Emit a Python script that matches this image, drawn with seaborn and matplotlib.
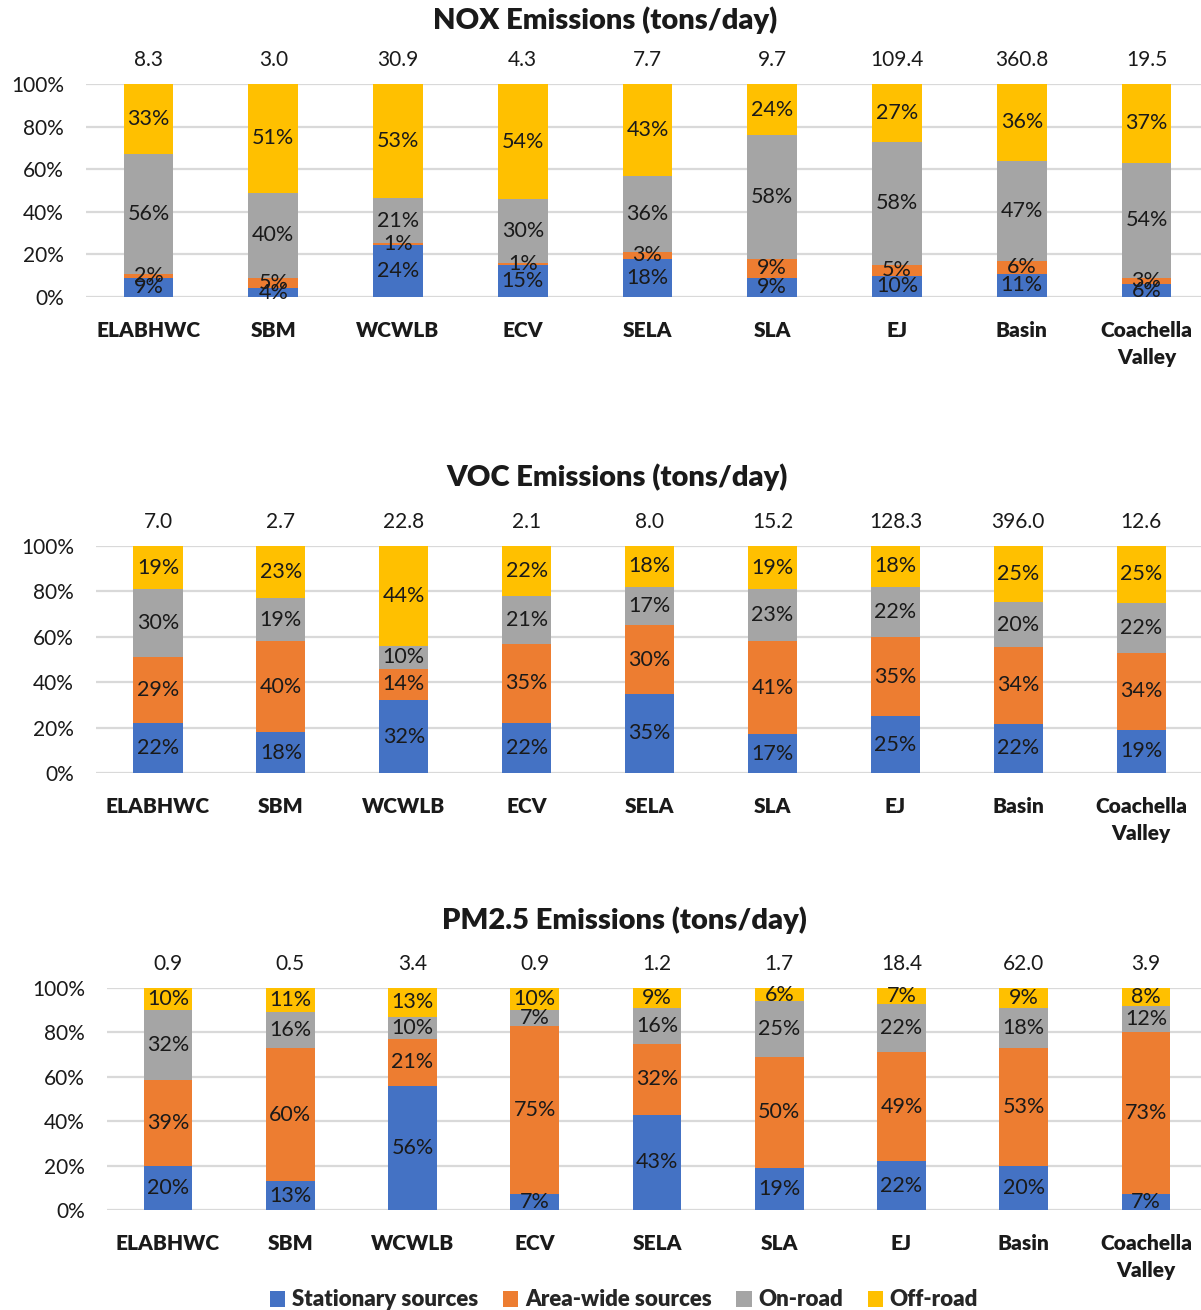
import pandas as pd
import seaborn as sns
import matplotlib.pyplot as plt
from matplotlib.patches import Patch

regions = ["ELABHWC", "SBM", "WCWLB", "ECV", "SELA", "SLA", "EJ", "Basin", "Coachella\nValley"]
sources = ["Stationary sources", "Area-wide sources", "On-road", "Off-road"]
colors = ["#4472C4", "#ED7D31", "#A5A5A5", "#FFC000"]

# NOX
nox_total = [8.3, 3.0, 30.9, 4.3, 7.7, 9.7, 109.4, 360.8, 19.5]
nox_stationary = [9, 4, 24, 15, 18, 9, 10, 11, 6]
nox_area = [2, 5, 1, 1, 3, 9, 5, 6, 3]
nox_onroad = [56, 40, 21, 30, 36, 58, 58, 47, 54]
nox_offroad = [33, 51, 53, 54, 43, 24, 27, 36, 37]

# VOC
voc_total = [7.0, 2.7, 22.8, 2.1, 8.0, 15.2, 128.3, 396.0, 12.6]
voc_stationary = [22, 18, 32, 22, 35, 17, 25, 22, 19]
voc_area = [29, 40, 14, 35, 30, 41, 35, 34, 34]
voc_onroad = [30, 19, 10, 21, 17, 23, 22, 20, 22]
voc_offroad = [19, 23, 44, 22, 18, 19, 18, 25, 25]

# PM2.5
pm_total = [0.9, 0.5, 3.4, 0.9, 1.2, 1.7, 18.4, 62.0, 3.9]
pm_stationary = [20, 13, 56, 7, 43, 19, 22, 20, 7]
pm_area = [39, 60, 21, 75, 32, 50, 49, 53, 73]
pm_onroad = [32, 16, 10, 7, 16, 25, 22, 18, 12]
pm_offroad = [10, 11, 13, 10, 9, 6, 7, 9, 8]

panels = [
    ("NOX Emissions (tons/day)", nox_total, [nox_stationary, nox_area, nox_onroad, nox_offroad]),
    ("VOC Emissions (tons/day)", voc_total, [voc_stationary, voc_area, voc_onroad, voc_offroad]),
    ("PM2.5 Emissions (tons/day)", pm_total, [pm_stationary, pm_area, pm_onroad, pm_offroad]),
]

# pixel layout: axes left, top, bottom, first bar center, bar spacing, title x, title y
layout = [
    (86, 84, 297, 148.5, 124.75, 605, 20),
    (96, 546, 773, 158, 122.9, 617, 477),
    (107, 988, 1210, 168, 122.25, 624, 920),
]

sns.set_style("white")
plt.rcParams["font.family"] = ["Lato", "DejaVu Sans"]

W, H = 1201, 1310
fig = plt.figure(figsize=(W / 100, H / 100), dpi=100)

for (title, totals, series), (left, top, bottom, c0, step, tx, ty) in zip(panels, layout):
    ax = fig.add_axes([left / W, 1 - bottom / H, 1 - left / W, (bottom - top) / H])
    df = pd.DataFrame(dict(zip(sources, series)))
    df["region"] = regions
    shares = df[sources].div(df[sources].sum(axis=1), axis=0) * 100
    cum = shares.cumsum(axis=1)

    # draw cumulative bars from the top segment down so they stack
    for k in reversed(range(4)):
        sns.barplot(x=df["region"], y=cum[sources[k]], color=colors[k], width=0.4,
                    saturation=1, linewidth=0, errorbar=None, ax=ax, zorder=2)

    for i in range(len(regions)):
        for k in range(4):
            ax.text(i, cum[sources[k]][i] - shares[sources[k]][i] / 2, f"{series[k][i]}%",
                    ha="center", va="center", fontsize=15.5, color="#1a1a1a", zorder=3)
        ax.annotate(f"{totals[i]:.1f}", xy=(i, 100), xytext=(0, 17.5), textcoords="offset points",
                    ha="center", va="center", fontsize=15, color="#1a1a1a", annotation_clip=False)

    ax.set_ylim(0, 100)
    ax.set_xlim((left - c0) / step, (W - c0) / step)
    ax.set_yticks(range(0, 101, 20))
    ax.set_yticklabels([f"{v}%" for v in range(0, 101, 20)])
    ax.yaxis.grid(True, color="#d9d9d9", linewidth=1.6, zorder=0)
    ax.set_axisbelow(True)
    for s in ax.spines.values():
        s.set_visible(False)
    ax.set_xlabel("")
    ax.set_ylabel("")
    ax.tick_params(axis="y", length=0, pad=16, labelsize=15, labelcolor="#1a1a1a")
    ax.tick_params(axis="x", length=0, pad=17, labelsize=15, labelcolor="#1a1a1a")
    for lab in ax.get_xticklabels():
        lab.set_fontweight("heavy")
        lab.set_linespacing(1.55)

    fig.text(tx / W, 1 - ty / H, title, ha="center", va="center", fontsize=21,
             fontweight="heavy", color="#1a1a1a")

handles = [Patch(facecolor=c, edgecolor="none") for c in colors]
fig.legend(handles, sources, loc="center", bbox_to_anchor=(624 / W, 1 - 1300 / H), ncol=4,
           frameon=False, prop={"size": 16, "weight": "heavy"}, handlelength=0.7,
           handleheight=0.7, handletextpad=0.3, columnspacing=1.1)

fig.savefig("out.png", dpi=100)
